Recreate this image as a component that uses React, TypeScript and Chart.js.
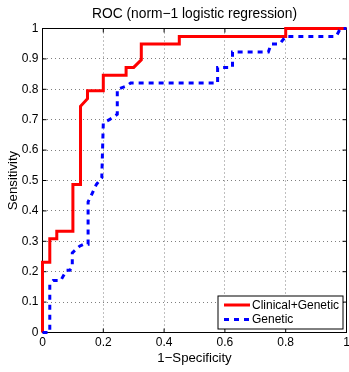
import React, { useEffect, useRef } from "react";
import { Chart, registerables } from "chart.js";

Chart.register(...registerables);

const titleText = "ROC (norm\u22121 logistic regression)";
const xAxisLabel = "1\u2212Specificity";
const yAxisLabel = "Sensitivity";
const seriesLabels = ["Clinical+Genetic", "Genetic"];

const clinicalFpr = [0, 0, 0.024, 0.024, 0.047, 0.047, 0.1, 0.1, 0.125, 0.125, 0.148, 0.148, 0.2, 0.2, 0.275, 0.275, 0.3, 0.325, 0.325, 0.45, 0.45, 0.8, 0.8, 1];
const clinicalTpr = [0, 0.231, 0.231, 0.308, 0.308, 0.333, 0.333, 0.487, 0.487, 0.744, 0.769, 0.795, 0.795, 0.846, 0.846, 0.872, 0.872, 0.897, 0.949, 0.949, 0.974, 0.974, 1, 1];

const geneticFpr = [0, 0.024, 0.024, 0.035, 0.06, 0.079, 0.09, 0.098, 0.098, 0.122, 0.135, 0.15, 0.15, 0.16, 0.177, 0.195, 0.2, 0.22, 0.246, 0.246, 0.275, 0.29, 0.576, 0.576, 0.625, 0.625, 0.743, 0.752, 0.78, 0.8, 0.966, 0.98, 1];
const geneticTpr = [0, 0, 0.158, 0.171, 0.171, 0.205, 0.205, 0.215, 0.262, 0.284, 0.29, 0.29, 0.43, 0.45, 0.487, 0.509, 0.69, 0.7, 0.718, 0.8, 0.81, 0.821, 0.821, 0.872, 0.872, 0.923, 0.923, 0.949, 0.949, 0.974, 0.974, 1, 1];

const xTickValues = [0, 0.2, 0.4, 0.6, 0.8, 1];
const xTickLabels = ["0", "0.2", "0.4", "0.6", "0.8", "1"];
const yTickValues = [0, 0.1, 0.2, 0.3, 0.4, 0.5, 0.6, 0.7, 0.8, 0.9, 1];
const yTickLabels = ["0", "0.1", "0.2", "0.3", "0.4", "0.5", "0.6", "0.7", "0.8", "0.9", "1"];

const FONT = '"Liberation Sans", Arial, Helvetica, sans-serif';

const boxPlugin = {
  id: "boxPlugin",
  beforeDatasetsDraw(chart: any) {
    const { ctx, chartArea } = chart;
    const { left, right, top, bottom } = chartArea;
    const xs = chart.scales.x;
    const ys = chart.scales.y;
    ctx.save();
    ctx.strokeStyle = "#000";
    ctx.lineWidth = 1;
    ctx.setLineDash([]);
    ctx.strokeRect(left, top, right - left, bottom - top);
    const tl = 4;
    ctx.beginPath();
    xTickValues.forEach((v) => {
      const px = xs.getPixelForValue(v);
      ctx.moveTo(px, bottom);
      ctx.lineTo(px, bottom - tl);
      ctx.moveTo(px, top);
      ctx.lineTo(px, top + tl);
    });
    yTickValues.forEach((v) => {
      const py = ys.getPixelForValue(v);
      ctx.moveTo(left, py);
      ctx.lineTo(left + tl, py);
      ctx.moveTo(right, py);
      ctx.lineTo(right - tl, py);
    });
    ctx.stroke();
    ctx.restore();
  },
  afterDraw(chart: any) {
    const { ctx, chartArea } = chart;
    const { left, right, top, bottom } = chartArea;
    ctx.save();
    // title
    ctx.fillStyle = "#000";
    ctx.font = `13.8px ${FONT}`;
    ctx.textAlign = "center";
    ctx.textBaseline = "middle";
    ctx.fillText(titleText, (left + right) / 2, 14);

    // legend
    const w = 125;
    const h = 33;
    const bx = right - 3.5 - w;
    const by = bottom - 3.5 - h;
    ctx.fillStyle = "#fff";
    ctx.fillRect(bx, by, w, h);
    ctx.strokeStyle = "#000";
    ctx.lineWidth = 1;
    ctx.setLineDash([]);
    ctx.strokeRect(bx, by, w, h);
    const ds = chart.data.datasets;
    const rows = [by + 9, by + 23.5];
    ds.forEach((d: any, i: number) => {
      const y = rows[i];
      ctx.strokeStyle = d.borderColor;
      ctx.lineWidth = d.borderWidth;
      ctx.setLineDash(d.borderDash || []);
      ctx.beginPath();
      ctx.moveTo(bx + 6, y);
      ctx.lineTo(bx + 32, y);
      ctx.stroke();
      ctx.setLineDash([]);
      ctx.fillStyle = "#000";
      ctx.font = `12px ${FONT}`;
      ctx.textAlign = "left";
      ctx.textBaseline = "middle";
      ctx.fillText(d.label, bx + 34, y + 0.5);
    });
    ctx.restore();
  },
};

export default function App() {
  const canvasRef = useRef<HTMLCanvasElement | null>(null);

  useEffect(() => {
    if (!canvasRef.current) return;
    Chart.defaults.color = "#000";
    const chart = new Chart(canvasRef.current, {
      type: "line",
      data: {
        datasets: [
          {
            label: seriesLabels[0],
            data: clinicalFpr.map((x, i) => ({ x, y: clinicalTpr[i] })),
            borderColor: "#ff0000",
            backgroundColor: "#ff0000",
            borderWidth: 3,
            pointRadius: 0,
            tension: 0,
            fill: false,
            borderJoinStyle: "miter",
            borderCapStyle: "butt",
            clip: false,
            order: 2,
          } as any,
          {
            label: seriesLabels[1],
            data: geneticFpr.map((x, i) => ({ x, y: geneticTpr[i] })),
            borderColor: "#0000ff",
            backgroundColor: "#0000ff",
            borderWidth: 3,
            borderDash: [5, 5],
            pointRadius: 0,
            tension: 0,
            fill: false,
            borderJoinStyle: "miter",
            borderCapStyle: "butt",
            clip: false,
            order: 1,
          } as any,
        ],
      },
      options: {
        animation: false,
        responsive: false,
        maintainAspectRatio: false,
        layout: { padding: { left: 0, top: 28.5, right: 2.5, bottom: 0 } },
        plugins: {
          legend: { display: false },
          tooltip: { enabled: false },
          title: { display: false },
        },
        scales: {
          x: {
            type: "linear",
            min: 0,
            max: 1,
            afterBuildTicks: (s: any) => {
              s.ticks = xTickValues.map((v) => ({ value: v }));
            },
            afterFit: (s: any) => {
              s.height = 39.5;
              s.paddingRight = 0;
              s.paddingLeft = 0;
            },
            ticks: {
              padding: 3,
              maxRotation: 0,
              autoSkip: false,
              font: { family: FONT, size: 12 },
              color: "#000",
              callback: (_v: any, i: number) => xTickLabels[i],
            },
            grid: { color: "rgba(0,0,0,0.5)", lineWidth: 1, drawTicks: false },
            border: { display: false, dash: [1, 3] },
            title: {
              display: true,
              text: xAxisLabel,
              font: { family: FONT, size: 13.2 },
              color: "#000",
              padding: { top: 0, bottom: 6 },
            },
          },
          y: {
            type: "linear",
            min: 0,
            max: 1,
            afterBuildTicks: (s: any) => {
              s.ticks = yTickValues.map((v) => ({ value: v }));
            },
            afterFit: (s: any) => {
              s.width = 42.5;
            },
            ticks: {
              padding: 4,
              autoSkip: false,
              font: { family: FONT, size: 12 },
              color: "#000",
              callback: (_v: any, i: number) => yTickLabels[i],
            },
            grid: { color: "rgba(0,0,0,0.5)", lineWidth: 1, drawTicks: false },
            border: { display: false, dash: [1, 3] },
            title: {
              display: true,
              text: yAxisLabel,
              font: { family: FONT, size: 13.2 },
              color: "#000",
              padding: { top: 5, bottom: 0 },
            },
          },
        },
      },
      plugins: [boxPlugin],
    });
    return () => chart.destroy();
  }, []);

  return (
    <div style={{ position: "fixed", left: 0, top: 0, width: 349, height: 372, background: "#fff" }}>
      <canvas ref={canvasRef} width={349} height={372} style={{ display: "block", width: 349, height: 372 }} />
    </div>
  );
}
